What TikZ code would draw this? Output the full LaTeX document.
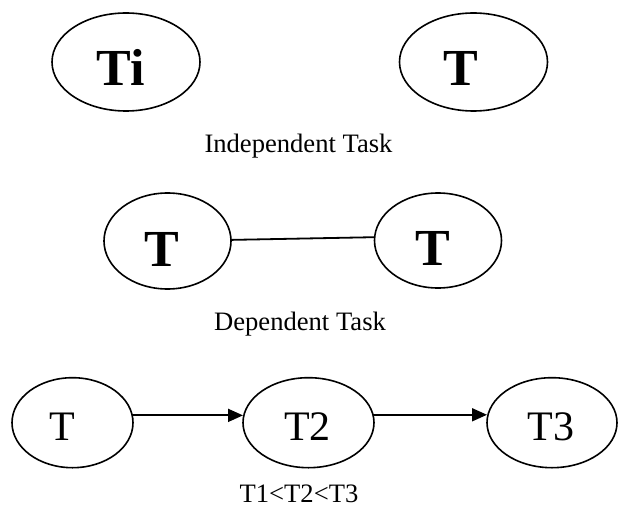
\documentclass[tikz,border=0pt]{standalone}
\usepackage{fontspec}
\setmainfont{Liberation Serif}
\usetikzlibrary{shapes.geometric,arrows.meta}
\begin{document}
\begin{tikzpicture}[x=1pt,y=-1pt,
  task/.style={draw, ellipse, line width=1.6pt, inner sep=0pt, outer sep=0pt, text depth=0pt},
  boldtask/.style={task, font=\fontsize{52}{52}\selectfont\bfseries},
  plaintask/.style={task, font=\fontsize{42}{42}\selectfont},
  caption/.style={anchor=base, inner sep=0pt, font=\fontsize{26.6}{30}\selectfont},
  link/.style={line width=1.8pt},
  arrowlink/.style={line width=1.8pt, -{Triangle[length=15pt,width=13pt]}}
]
\useasboundingbox (0,0) rectangle (618,508);

% independent tasks
\node[boldtask, minimum width=148pt, minimum height=98pt, text height=48pt] (ti) at (126,62) {Ti\hspace*{10pt}};
\node[boldtask, minimum width=148pt, minimum height=98pt, text height=48pt] (tr) at (473.5,62) {T\hspace*{26pt}};
\node[caption] (cap1) at (298.5,153) {Independent Task};

% dependent tasks
\node[boldtask, minimum width=127pt, minimum height=96pt, text height=50pt] (da) at (167.5,241) {T\hspace*{12pt}};
\node[boldtask, minimum width=127pt, minimum height=95pt, text height=50pt] (db) at (438,240.5) {T\hspace*{10pt}};
\draw[link] (da.1) -- (db.177.5);
\node[caption] (cap2) at (300,330) {Dependent Task};

% ordered chain
\node[plaintask, minimum width=121pt, minimum height=90pt, text height=35.8pt] (t1) at (72.5,422.7) {T\hspace*{20pt}};
\node[plaintask, minimum width=131pt, minimum height=90pt, text height=35.8pt] (t2) at (308.5,422.7) {T2\hspace*{2pt}};
\node[plaintask, minimum width=130pt, minimum height=90pt, text height=35.8pt] (t3) at (552,422.7) {T3\hspace*{2pt}};
\draw[arrowlink] (t1.7) -- (t1.7 -| t2.west);
\draw[arrowlink] (t2.7) -- (t2.7 -| t3.west);
\node[caption] (cap3) at (299,502.5) {T1<T2<T3};
\end{tikzpicture}
\end{document}
